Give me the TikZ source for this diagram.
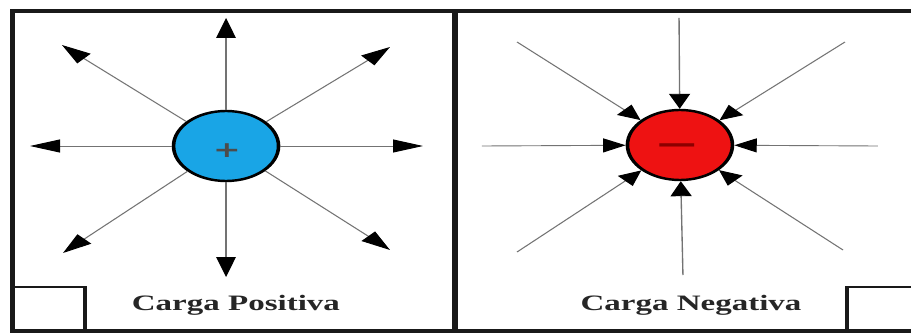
\documentclass[tikz,border=0pt]{standalone}
\usepackage{fontspec}
\setmainfont{Liberation Serif}
\newfontfamily\signfont{DejaVu Sans}
\usetikzlibrary{arrows.meta}
\definecolor{chargeblue}{RGB}{25,165,230}
\definecolor{chargered}{RGB}{238,18,18}
\definecolor{minusred}{RGB}{140,0,0}
\tikzset{
  frameline/.style={line width=3.4pt, draw=black!90},
  boxline/.style={line width=2.6pt, draw=black!90},
  fieldline/.style={line width=0.9pt, draw=black!55},
  outtip/.style={-{Triangle[length=20pt,width=13pt,color=black]}},
  intip/.style={-{Triangle[length=15pt,width=14pt,color=black]}},
  charge/.style={circle, draw=black, line width=2.4pt, minimum size=70pt, inner sep=0pt},
  captiontext/.style={font=\bfseries\fontsize{22}{22}\selectfont, text=black!85, inner sep=0pt, anchor=base}
}
\begin{document}
\begin{tikzpicture}[x=1pt,y=-1pt]
\useasboundingbox (0,0) rectangle (911,334);
\fill[white] (0,0) rectangle (911,334);
\begin{scope}[transform canvas={xscale=1.5}]
  % frame
  \draw[frameline] (620,11) -- (8.33,11) -- (8.33,331) -- (620,331);
  \draw[frameline] (303.3,11) -- (303.3,331);
  \draw[boxline] (8.33,287) rectangle (56.7,331);
  \draw[boxline] (564.7,287) rectangle (630,331);

  % positive charge
  \node[charge, fill=chargeblue] (pc) at (150.7,146) {};
  \node[font=\signfont\bfseries\fontsize{22}{22}\selectfont, text=black!70, inner sep=0pt] (plussign) at (151.3,151) {+};
  \coordinate (pu) at (150.7,18);
  \coordinate (pd) at (150.7,277);
  \coordinate (pl) at (20,146);
  \coordinate (pr) at (282,146);
  \coordinate (pul) at (41.3,45);
  \coordinate (pur) at (260,47);
  \coordinate (pll) at (42,253);
  \coordinate (plr) at (260,250);
  \foreach \t in {pu,pd,pl,pr,pul,pur,pll,plr}
    \draw[fieldline, outtip] (pc) -- (\t);

  % negative charge
  \node[charge, fill=chargered] (nc) at (453.3,145) {};
  \node[font=\signfont\bfseries\fontsize{26}{26}\selectfont, text=minusred, inner sep=0pt] (minussign) at (451.3,148) {—};
  \coordinate (nu) at (452.7,18);
  \coordinate (nd) at (455.3,275);
  \coordinate (nl) at (321.3,146);
  \coordinate (nr) at (585.3,146);
  \coordinate (nul) at (344.7,42);
  \coordinate (nur) at (563.3,42);
  \coordinate (nll) at (344.7,252);
  \coordinate (nlr) at (562,250);
  \foreach \s in {nu,nd,nl,nr,nul,nur,nll,nlr}
    \draw[fieldline, intip] (\s) -- (nc);

  % captions
  \node[captiontext] (poslabel) at (157.3,310) {Carga Positiva};
  \node[captiontext] (neglabel) at (460.7,310) {Carga Negativa};
\end{scope}
\end{tikzpicture}
\end{document}
